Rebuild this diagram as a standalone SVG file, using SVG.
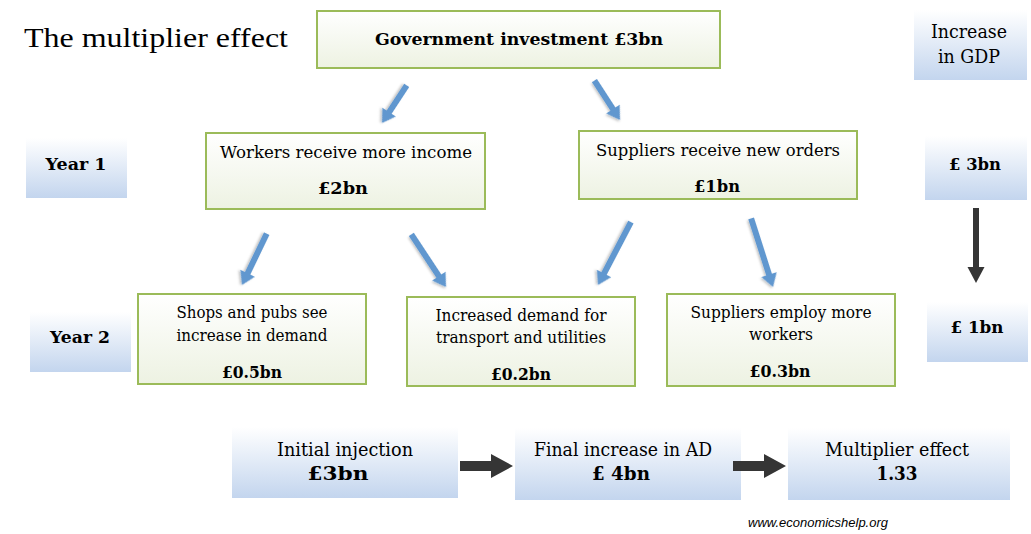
<svg xmlns="http://www.w3.org/2000/svg" width="1031" height="534" viewBox="0 0 1031 534">
<defs>
<linearGradient id="gGreen" x1="0" y1="0" x2="0" y2="1">
<stop offset="0" stop-color="#ffffff"/>
<stop offset="1" stop-color="#edf2e2"/>
</linearGradient>
<linearGradient id="gBlue" x1="0" y1="0" x2="0" y2="1">
<stop offset="0" stop-color="#ffffff"/>
<stop offset="1" stop-color="#c3d5ee"/>
</linearGradient>
<filter id="sh" x="-20%" y="-20%" width="140%" height="140%">
<feDropShadow dx="1" dy="1.5" stdDeviation="1" flood-color="#000" flood-opacity="0.25"/>
</filter>
</defs>
<style>
.gb{fill:url(#gGreen);stroke:#9bbb59;stroke-width:2}
.bb{fill:url(#gBlue)}
text{font-family:"DejaVu Serif","Liberation Serif",serif;fill:#000;text-anchor:middle}
.t{font-size:16px}
.b{font-size:17px;font-weight:bold}
.bt{font-size:19px}
.ba{fill:#6197cf;filter:url(#sh)}
.ka{fill:#353535}
</style>
<rect width="1031" height="534" fill="#fff"/>
<text x="24" y="47" style="font-size:27px;text-anchor:start;font-family:'Liberation Serif',serif" textLength="264" lengthAdjust="spacingAndGlyphs">The multiplier effect</text>

<g id="gov">
<rect class="gb" x="317" y="11" width="403" height="57"/>
<text class="b" x="519" y="45" textLength="288" lengthAdjust="spacingAndGlyphs">Government investment £3bn</text>
</g>
<g id="gdp-header">
<rect class="bb" x="914" y="10" width="113" height="70"/>
<text class="bt" x="969" y="38" textLength="76" lengthAdjust="spacingAndGlyphs">Increase</text>
<text class="bt" x="969" y="63" textLength="62" lengthAdjust="spacingAndGlyphs">in GDP</text>
</g>
<g id="year1">
<rect class="bb" x="26" y="138" width="101" height="60"/>
<text class="b" x="76" y="170" textLength="61" lengthAdjust="spacingAndGlyphs">Year 1</text>
</g>
<g id="workers">
<rect class="gb" x="206" y="133" width="279" height="76"/>
<text class="t" x="346" y="158" textLength="252" lengthAdjust="spacingAndGlyphs">Workers receive more income</text>
<text class="b" x="343" y="194" textLength="50" lengthAdjust="spacingAndGlyphs">£2bn</text>
</g>
<g id="suppliers">
<rect class="gb" x="579" y="131" width="278" height="68"/>
<text class="t" x="718" y="156" textLength="244" lengthAdjust="spacingAndGlyphs">Suppliers receive new orders</text>
<text class="b" x="717" y="192" textLength="46" lengthAdjust="spacingAndGlyphs">£1bn</text>
</g>
<g id="gdp1">
<rect class="bb" x="925" y="136" width="102" height="64"/>
<text class="b" x="975" y="170" textLength="52" lengthAdjust="spacingAndGlyphs">£ 3bn</text>
</g>
<g id="gdp2">
<rect class="bb" x="927" y="302" width="101" height="60"/>
<text class="b" x="977" y="333" textLength="53" lengthAdjust="spacingAndGlyphs">£ 1bn</text>
</g>
<g id="year2">
<rect class="bb" x="30" y="312" width="101" height="60"/>
<text class="b" x="80" y="343" textLength="60" lengthAdjust="spacingAndGlyphs">Year 2</text>
</g>
<g id="shops">
<rect class="gb" x="138" y="294" width="228" height="90"/>
<text class="t" x="252" y="318" textLength="151" lengthAdjust="spacingAndGlyphs">Shops and pubs see</text>
<text class="t" x="252" y="341" textLength="151" lengthAdjust="spacingAndGlyphs">increase in demand</text>
<text class="b" x="252" y="378" textLength="60" lengthAdjust="spacingAndGlyphs">£0.5bn</text>
</g>
<g id="transport">
<rect class="gb" x="407" y="297" width="228" height="89"/>
<text class="t" x="521" y="321" textLength="171" lengthAdjust="spacingAndGlyphs">Increased demand for</text>
<text class="t" x="521" y="343" textLength="170" lengthAdjust="spacingAndGlyphs">transport and utilities</text>
<text class="b" x="521" y="380" textLength="60" lengthAdjust="spacingAndGlyphs">£0.2bn</text>
</g>
<g id="employ">
<rect class="gb" x="667" y="294" width="228" height="92"/>
<text class="t" x="781" y="318" textLength="181" lengthAdjust="spacingAndGlyphs">Suppliers employ more</text>
<text class="t" x="781" y="340" textLength="64" lengthAdjust="spacingAndGlyphs">workers</text>
<text class="b" x="780" y="377" textLength="61" lengthAdjust="spacingAndGlyphs">£0.3bn</text>
</g>
<g id="initial">
<rect class="bb" x="232" y="427" width="226" height="71"/>
<text class="bt" x="345" y="456" textLength="136" lengthAdjust="spacingAndGlyphs">Initial injection</text>
<text class="b" x="338" y="480" style="font-size:19px" textLength="61" lengthAdjust="spacingAndGlyphs">£3bn</text>
</g>
<g id="final">
<rect class="bb" x="515" y="428" width="226" height="72"/>
<text class="bt" x="623" y="456" textLength="178" lengthAdjust="spacingAndGlyphs">Final increase in AD</text>
<text class="b" x="621" y="480" style="font-size:19px" textLength="58" lengthAdjust="spacingAndGlyphs">£ 4bn</text>
</g>
<g id="multiplier">
<rect class="bb" x="788" y="428" width="222" height="72"/>
<text class="bt" x="897" y="456" textLength="144" lengthAdjust="spacingAndGlyphs">Multiplier effect</text>
<text class="b" x="897" y="480" style="font-size:19px" textLength="41" lengthAdjust="spacingAndGlyphs">1.33</text>
</g>
<text x="748" y="527" style="font-size:12px;font-style:italic;text-anchor:start;font-family:'Liberation Sans',sans-serif" textLength="140" lengthAdjust="spacingAndGlyphs">www.economicshelp.org</text>

<g id="connectors">
<polygon class="ba" transform="translate(382,123) rotate(123.3)" points="-45,-3 -13,-3 -13,-8 0,0 -13,8 -13,3 -45,3"/>
<polygon class="ba" transform="translate(620,120) rotate(57)" points="-47,-3 -13,-3 -13,-8 0,0 -13,8 -13,3 -47,3"/>
<polygon class="ba" transform="translate(242,285) rotate(115.7)" points="-57,-3 -13,-3 -13,-8 0,0 -13,8 -13,3 -57,3"/>
<polygon class="ba" transform="translate(446,287) rotate(56.6)" points="-63,-3 -13,-3 -13,-8 0,0 -13,8 -13,3 -63,3"/>
<polygon class="ba" transform="translate(598,285) rotate(117.6)" points="-71,-3 -13,-3 -13,-8 0,0 -13,8 -13,3 -71,3"/>
<polygon class="ba" transform="translate(773,287) rotate(72.3)" points="-72,-3 -13,-3 -13,-8 0,0 -13,8 -13,3 -72,3"/>
<polygon class="ka" points="973,208 979,208 979,267 984.5,267 976,283 967.5,267 973,267"/>
<polygon class="ka" points="460,461 491,461 491,454 513,466 491,478 491,471 460,471"/>
<polygon class="ka" points="733,461 764,461 764,454 786,466 764,478 764,471 733,471"/>
</g>
</svg>
